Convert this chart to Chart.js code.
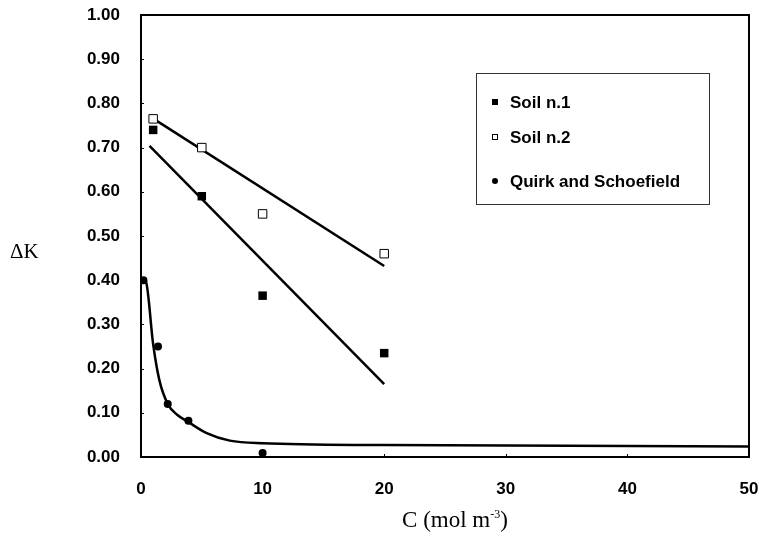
<!DOCTYPE html>
<html>
<head>
<meta charset="utf-8">
<script src="https://cdn.jsdelivr.net/npm/chart.js@4/dist/chart.umd.min.js"></script>
<style>
  html, body { margin: 0; padding: 0; background: #fff; }
  #wrap { width: 759px; height: 538px; }
</style>
</head>
<body>
<div id="wrap"><canvas id="dkChart" width="759" height="538"></canvas></div>
<script>
// measured points
const soil1X = [1, 5, 10, 20];
const soil1Y = [0.74, 0.59, 0.365, 0.235];
const soil2X = [1, 5, 10, 20];
const soil2Y = [0.765, 0.70, 0.55, 0.46];
const quirkX = [0.2, 1.4, 2.2, 3.9, 10];
const quirkY = [0.40, 0.25, 0.12, 0.082, 0.009];

// fitted lines (end points)
const fit1X = [0.7, 20];
const fit1Y = [0.704, 0.165];
const fit2X = [0.75, 20];
const fit2Y = [0.77, 0.432];

// smooth curve through Quirk and Schoefield data
const curveX = [0.2, 0.4, 1.0, 1.5, 2.2, 3.0, 3.9, 5.4, 7.3, 10, 20, 50];
const curveY = [0.40, 0.397, 0.255, 0.175, 0.12, 0.095, 0.079, 0.054, 0.037, 0.031, 0.027, 0.024];

const yTicks = [0, 0.1, 0.2, 0.3, 0.4, 0.5, 0.6, 0.7, 0.8, 0.9, 1.0];
const xTicks = [0, 10, 20, 30, 40, 50];

const toXY = (xs, ys) => xs.map((x, i) => ({ x: x, y: ys[i] }));

const tickFont = { family: "'Liberation Sans', Arial, sans-serif", size: 17, weight: 'bold' };

// keep tick labels from pushing the plot area inwards
const noOverflow = s => {
  s.paddingLeft = 0; s.paddingRight = 0;
  s.paddingTop = 0; s.paddingBottom = 0;
};

// frame, inner tick marks, axis titles and legend box
const decor = {
  id: 'decor',
  afterDraw(chart) {
    const ctx = chart.ctx;
    const a = chart.chartArea;
    const xs = chart.scales.x, ys = chart.scales.y;
    ctx.save();
    ctx.strokeStyle = '#000';
    ctx.lineWidth = 2;
    ctx.strokeRect(a.left, a.top, a.right - a.left, a.bottom - a.top);

    ctx.lineWidth = 1;
    ctx.beginPath();
    yTicks.forEach(v => {
      const py = Math.round(ys.getPixelForValue(v)) + 0.5;
      ctx.moveTo(a.left, py); ctx.lineTo(a.left + 3, py);
    });
    xTicks.forEach(v => {
      const px = Math.round(xs.getPixelForValue(v)) + 0.5;
      ctx.moveTo(px, a.bottom); ctx.lineTo(px, a.bottom - 3);
    });
    ctx.stroke();

    // axis titles
    ctx.fillStyle = '#000';
    ctx.textBaseline = 'alphabetic';
    ctx.font = "21px 'Liberation Serif', 'Times New Roman', serif";
    ctx.textAlign = 'left';
    ctx.fillText('\u0394K', 10, 258);

    ctx.font = "23px 'Liberation Serif', 'Times New Roman', serif";
    const p1 = 'C (mol m', sup = '-3', p2 = ')';
    const w1 = ctx.measureText(p1).width;
    ctx.font = "12px 'Liberation Serif', 'Times New Roman', serif";
    const ws = ctx.measureText(sup).width;
    ctx.font = "23px 'Liberation Serif', 'Times New Roman', serif";
    const w2 = ctx.measureText(p2).width;
    let x0 = 455 - (w1 + ws + w2) / 2;
    ctx.fillText(p1, x0, 527);
    ctx.font = "12px 'Liberation Serif', 'Times New Roman', serif";
    ctx.fillText(sup, x0 + w1, 518);
    ctx.font = "23px 'Liberation Serif', 'Times New Roman', serif";
    ctx.fillText(p2, x0 + w1 + ws, 527);

    // legend
    ctx.strokeStyle = '#333';
    ctx.lineWidth = 1;
    ctx.strokeRect(476.5, 73.5, 233, 131);
    const rows = [
      { ds: 0, y: 102 },
      { ds: 1, y: 137 },
      { ds: 2, y: 181 }
    ];
    ctx.font = "bold 17px 'Liberation Sans', Arial, sans-serif";
    ctx.textBaseline = 'middle';
    rows.forEach(r => {
      const d = chart.data.datasets[r.ds];
      if (d.pointStyle === 'circle') {
        ctx.fillStyle = '#000';
        ctx.beginPath(); ctx.arc(495, r.y, 3, 0, Math.PI * 2); ctx.fill();
      } else if (d.pointBackgroundColor === '#fff') {
        ctx.strokeStyle = '#000';
        ctx.strokeRect(492.5, r.y - 2.5, 5, 5);
      } else {
        ctx.fillStyle = '#000';
        ctx.fillRect(492, r.y - 3, 6, 6);
      }
      ctx.fillStyle = '#000';
      ctx.fillText(d.label, 510, r.y + 1);
    });
    ctx.restore();
  }
};

new Chart(document.getElementById('dkChart'), {
  type: 'scatter',
  data: {
    datasets: [
      {
        label: 'Soil n.1',
        data: toXY(soil1X, soil1Y),
        pointStyle: 'rect',
        pointRadius: 6,
        pointBackgroundColor: '#000',
        pointBorderColor: '#000',
        pointBorderWidth: 0
      },
      {
        label: 'Soil n.2',
        data: toXY(soil2X, soil2Y),
        pointStyle: 'rect',
        pointRadius: 6,
        pointBackgroundColor: '#fff',
        pointBorderColor: '#000',
        pointBorderWidth: 1
      },
      {
        label: 'Quirk and Schoefield',
        data: toXY(quirkX, quirkY),
        pointStyle: 'circle',
        pointRadius: 4,
        pointBackgroundColor: '#000',
        pointBorderColor: '#000',
        pointBorderWidth: 0
      },
      {
        label: 'fit1',
        data: toXY(fit1X, fit1Y),
        showLine: true,
        borderColor: '#000',
        borderWidth: 2.5,
        pointRadius: 0
      },
      {
        label: 'fit2',
        data: toXY(fit2X, fit2Y),
        showLine: true,
        borderColor: '#000',
        borderWidth: 2.5,
        pointRadius: 0
      },
      {
        label: 'curve',
        data: toXY(curveX, curveY),
        showLine: true,
        cubicInterpolationMode: 'monotone',
        borderColor: '#000',
        borderWidth: 2.5,
        pointRadius: 0
      }
    ]
  },
  options: {
    responsive: false,
    animation: false,
    layout: { padding: { top: 15, right: 10, left: 0, bottom: 0 } },
    plugins: {
      legend: { display: false },
      tooltip: { enabled: false }
    },
    scales: {
      x: {
        type: 'linear',
        min: 0,
        max: 50,
        afterBuildTicks: s => { s.ticks = xTicks.map(v => ({ value: v })); },
        afterFit: s => { s.height = 81; noOverflow(s); },
        grid: { display: false, drawTicks: false },
        border: { display: false },
        ticks: { color: '#000', font: tickFont, padding: 22, maxRotation: 0 }
      },
      y: {
        type: 'linear',
        min: 0,
        max: 1,
        afterBuildTicks: s => { s.ticks = yTicks.map(v => ({ value: v })); },
        afterFit: s => { s.width = 141; noOverflow(s); },
        grid: { display: false, drawTicks: false },
        border: { display: false },
        ticks: {
          color: '#000',
          font: tickFont,
          padding: 21,
          callback: v => Number(v).toFixed(2)
        }
      }
    }
  },
  plugins: [decor]
});
</script>
</body>
</html>
